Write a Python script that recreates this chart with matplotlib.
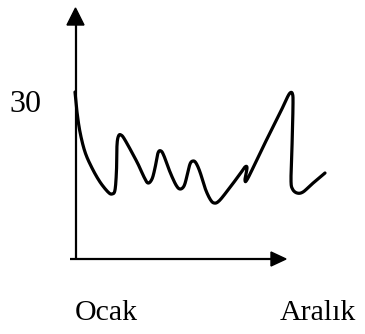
import numpy as np
import matplotlib
matplotlib.use("Agg")
import matplotlib.pyplot as plt
from matplotlib.patches import Polygon

# Sketch curve (pixel-like data units, y grows downward)
curve_x = [75, 77, 80, 85, 92, 100, 108, 112, 115, 116.5, 117, 118.5, 121, 125,
           137, 144, 148, 152, 155, 158, 161, 164, 170, 176, 180, 184, 187, 190,
           193, 196, 200, 205, 210, 214, 219, 228, 240, 245, 247, 245, 248, 263,
           280, 286, 290, 292.5, 293, 292, 291, 292.5, 297, 303, 312, 325]
curve_y = [92, 112, 132, 152, 168, 182, 192, 194, 190, 170, 145, 136, 135, 140,
           162, 177, 183, 179, 168, 153, 151, 156, 172, 185, 189, 186, 176, 164,
           161, 163, 172, 188, 199, 203, 201, 190, 174, 167, 168, 180, 178, 147,
           113, 100, 93, 94, 105, 147, 180, 189, 193, 192, 184, 173]

y_label = "30"
x_labels = ["Ocak", "Aralık"]


def catmull_rom(xs, ys, n=12):
    p = np.column_stack([xs, ys]).astype(float)
    p = np.vstack([p[0], p, p[-1]])
    out = []
    for i in range(1, len(p) - 2):
        p0, p1, p2, p3 = p[i - 1], p[i], p[i + 1], p[i + 2]
        t = np.linspace(0, 1, n, endpoint=False)[:, None]
        seg = 0.5 * ((2 * p1) + (-p0 + p2) * t + (2 * p0 - 5 * p1 + 4 * p2 - p3) * t ** 2
                     + (-p0 + 3 * p1 - 3 * p2 + p3) * t ** 3)
        out.append(seg)
    out.append(p[-2][None, :])
    out = np.vstack(out)
    return out[:, 0], out[:, 1]


fig = plt.figure(figsize=(3.65, 3.34), dpi=100)
ax = fig.add_axes([0, 0, 1, 1])
ax.set_xlim(0, 365)
ax.set_ylim(334, 0)
ax.axis("off")

# axes with arrows
ax.plot([76, 76], [259, 22], color="black", lw=1.6, solid_capstyle="butt")
ax.add_patch(Polygon([[67, 25], [84, 25], [75.5, 8]], closed=True, color="black"))
ax.plot([70, 273], [259, 259], color="black", lw=1.6, solid_capstyle="butt")
ax.add_patch(Polygon([[271, 252], [271, 266], [286, 259]], closed=True, color="black"))

sx, sy = catmull_rom(curve_x, curve_y)
ax.plot(sx, sy, color="black", lw=2.3, solid_joinstyle="round", solid_capstyle="round")

font = "Liberation Serif"
ax.text(9, 105, y_label, fontsize=23, family=font, ha="left", va="center")
ax.text(75, 320, x_labels[0], fontsize=21.5, family=font, ha="left", va="baseline")
ax.text(280, 320, x_labels[1], fontsize=21.5, family=font, ha="left", va="baseline")

fig.savefig("out.png", dpi=100)
